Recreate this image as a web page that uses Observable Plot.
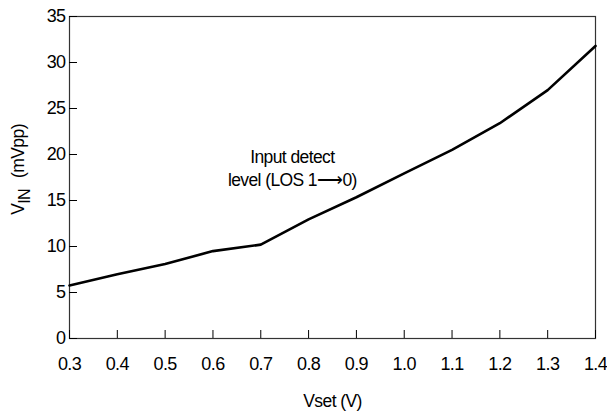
<!DOCTYPE html>
<html><head><meta charset="utf-8">
<script src="https://cdn.jsdelivr.net/npm/d3@7"></script>
<script src="https://cdn.jsdelivr.net/npm/@observablehq/plot@0.6"></script>
<style>
html,body{margin:0;padding:0;background:#fff;}
svg{font-family:"Liberation Sans",Arial,sans-serif;}
</style>
</head><body>
<div id="chart"></div>
<script>
const vset = [0.3, 0.4, 0.5, 0.6, 0.7, 0.8, 0.9, 1.0, 1.1, 1.2, 1.3, 1.4];
const vin  = [5.76, 6.98, 8.1, 9.5, 10.2, 12.95, 15.35, 17.95, 20.5, 23.4, 27.0, 31.8];
const xTicks = [0.3, 0.4, 0.5, 0.6, 0.7, 0.8, 0.9, 1.0, 1.1, 1.2, 1.3, 1.4];
const yTicks = [0, 5, 10, 15, 20, 25, 30, 35];
const annotation = [{x: 0.766, y: 18.6, text: "Input detect\nlevel (LOS 1\u27F60)"}];
const xLabel = "Vset (V)";

const data = vset.map((x, i) => ({x, y: vin[i]}));

const chart = Plot.plot({
  width: 607,
  height: 415,
  marginLeft: 69,
  marginRight: 12,
  marginTop: 16,
  marginBottom: 77,
  style: {fontSize: "18px", fontFamily: '"Liberation Sans",Arial,sans-serif', color: "#000", background: "#fff", letterSpacing: "-0.6px"},
  x: {domain: [0.3, 1.4]},
  y: {domain: [0, 35]},
  marks: [
    Plot.frame({stroke: "#333", strokeWidth: 1.2}),
    Plot.axisX(xTicks, {tickSize: -8, tickPadding: 27, tickFormat: d => d.toFixed(1), label: null, stroke: "#000", fill: "#000"}),
    Plot.axisY(yTicks, {tickSize: -8, tickPadding: 12, tickFormat: d => String(d), label: null, stroke: "#000", fill: "#000"}),
    Plot.line(data, {x: "x", y: "y", stroke: "#000", strokeWidth: 2.6, strokeLinejoin: "round"}),
    Plot.text(annotation, {x: "x", y: "y", text: "text", fontSize: 17.5, lineHeight: 1.3, fill: "#000", textAnchor: "middle"}),
    Plot.text([xLabel], {frameAnchor: "bottom", dy: 68, fontSize: 17.5, fill: "#000", text: d => d}),
    Plot.text(["VIN"], {frameAnchor: "left", textAnchor: "middle", dx: -51, dy: -8, rotate: -90, fontSize: 17.5, fill: "#000", text: d => d})
  ]
});

// rich y label with subscript
const svg = d3.select(chart);
svg.selectAll("text").filter(function(){ return this.textContent === "VIN"; }).each(function(){
  const t = d3.select(this);
  t.text(null);
  t.append("tspan").text("V");
  t.append("tspan").attr("font-size", 16).attr("dy", "0.35em").text("IN");
  t.append("tspan").attr("dy", "-0.35em").text("\u2002\u2009(mVpp)");
});
document.getElementById("chart").appendChild(chart);
</script>
</body></html>
